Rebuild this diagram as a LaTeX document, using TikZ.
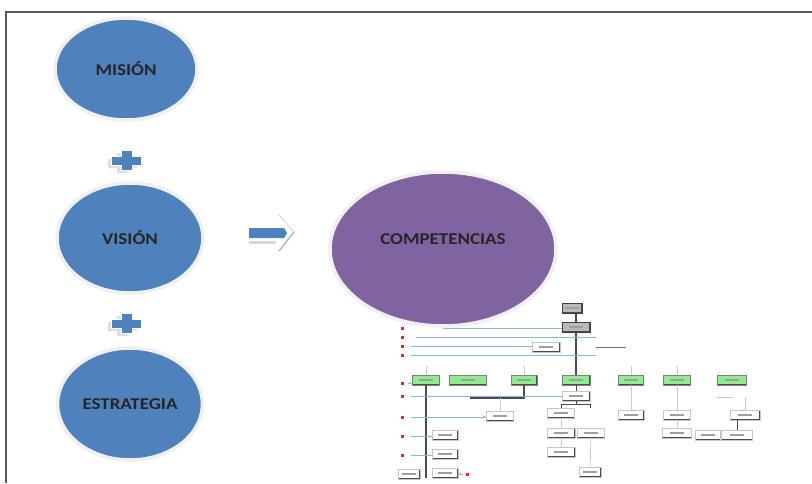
\documentclass[tikz,border=0pt]{standalone}
\usepackage{fontspec}
\newfontfamily\rotulo[FakeStretch=1.15]{Carlito}
\usetikzlibrary{shapes.geometric,arrows.meta}

\definecolor{azulovalo}{HTML}{4F81BD}
\definecolor{moradoovalo}{HTML}{8064A2}
\definecolor{verdecaja}{HTML}{8EEE8E}
\definecolor{azullinea}{HTML}{8DB3E2}
\definecolor{rojomarca}{HTML}{E8262A}

\tikzset{
  ovalo/.style={ellipse, draw=gray!12, line width=3.5pt, fill=azulovalo, inner sep=0pt,
    font=\rotulo\bfseries\fontsize{16.5}{19}\selectfont, text=black!85},
  relleno/.style={path picture={
    \draw[black!70, line width=1.6pt] (path picture bounding box.south west)
      -- (path picture bounding box.south east) -- (path picture bounding box.north east);
    \draw[gray!75, line width=1.5pt] ([xshift=-7pt]path picture bounding box.center)
      -- ([xshift=7pt]path picture bounding box.center);}},
  cajagris/.style={draw=black!75, line width=1pt, fill=gray!55, inner sep=0pt, minimum height=10pt, relleno},
  cajaverde/.style={draw=black!50, line width=0.5pt, fill=verdecaja, inner sep=0pt, minimum height=10pt, relleno},
  cajablanca/.style={draw=gray!45, line width=0.4pt, fill=white, inner sep=0pt, minimum height=10pt, relleno},
  lineaoscura/.style={draw=black!70, line width=1.4pt},
  lineaclara/.style={draw=gray!40, line width=0.8pt},
  lineaazul/.style={draw=azullinea, line width=0.8pt},
  marcaroja/.style={fill=rojomarca, inner sep=0pt, minimum size=3pt},
}

\begin{document}
\begin{tikzpicture}[x=1pt,y=-1pt]
\useasboundingbox (0,0) rectangle (812,483);
\fill[white] (0,0) rectangle (812,483);

% marco
\draw[black!65, line width=1.5pt] (812,12) -- (6,12) -- (6,483);

% ovalos
\node[ovalo, minimum width=142pt, minimum height=102pt] (mision) at (126,69) {MISIÓN};
\node[ovalo, minimum width=146pt, minimum height=110pt] (vision) at (130,238) {VISIÓN};
\node[ovalo, minimum width=145pt, minimum height=112pt] (estrategia) at (130,404) {ESTRATEGIA};
\node[ovalo, fill=moradoovalo, minimum width=226pt, minimum height=154pt, text depth=20pt]
  (competencias) at (443,249) {COMPETENCIAS};

% signos mas
\foreach \py in {160,323}
{
\begin{scope}[shift={(126,\py)}]
\fill[gray!25] (-18,-1) -- (-9,-1) -- (-9,-7) -- (2,-7) -- (2,-1) -- (11,-1) -- (11,8)
  -- (2,8) -- (2,13) -- (-9,13) -- (-9,8) -- (-18,8) -- cycle;
\filldraw[fill=azulovalo, draw=white, line width=0.8pt] (-15,-4) -- (-5,-4) -- (-5,-10) -- (6,-10)
  -- (6,-4) -- (15,-4) -- (15,5) -- (6,5) -- (6,10) -- (-5,10) -- (-5,5) -- (-15,5) -- cycle;
\end{scope}
}

% flecha
\fill[gray!30] (249,241) rectangle (276,244);
\filldraw[fill=white, draw=gray!35, line width=0.8pt] (279,215) -- (294,232) -- (279,251);
\draw[gray!60, line width=1.2pt] (294,232) -- (279,251);
\fill[azulovalo] (249,228) -- (284,228) -- (287,233) -- (284,238) -- (249,238) -- cycle;

% organigrama
\node[cajagris, minimum width=20pt] (p1) at (572,308) {};
\node[cajagris, minimum width=28pt] (p2) at (576,327) {};
\foreach \n/\x/\w in {v1/426/27, v2/468/37, v3/524/26, v4/576/28, v5/631/25, v6/677/27, v7/732/29}
  \node[cajaverde, minimum width=\w pt] (\n) at (\x,380) {};
\foreach \n/\x/\y/\w in {a1/546/347/28, c1/576/396/28, c2/561/413/27, c3/561/433/28, c4/591/433/27,
  c5/561/452/28, c7/590/472/22, b1/500/416/27, l1/445/435/26, l2/445/454/26, l3/409/474/22,
  l4/445/473/26, d1/631/415/26, e1/677/415/27, e2/677/433/29, f1/708/435/25, h1/745/415/30,
  h2/737/435/31}
  \node[cajablanca, minimum width=\w pt] (\n) at (\x,\y) {};
\node[inner sep=0pt, minimum width=30pt, minimum height=10pt] (a2) at (611,342) {};
\draw[black!55, line width=0.8pt] (a2.south west) -- (a2.south east);

\draw[lineaoscura] (p1.south -| p2) -- (p2.north);
\draw[lineaoscura] (p2) -- (v4);
\foreach \n in {v1,v3,v5,v6}
  \draw[lineaclara] (\n.north) -- ++(0,-9);
\draw[lineaoscura] (v1.south) -- (v1.south |- l4.south);
\coordinate (k1) at (470,398);
\draw[lineaoscura] (v3.south) |- (k1);
\draw[lineaclara] (b1.north) -- (b1.north |- k1);
\draw[lineaoscura, line width=1pt] (v4) -- (c1);
\coordinate (k2) at (590,404);
\draw[lineaoscura, line width=0.8pt] (c1.south) -- (c1.south |- k2);
\draw[lineaoscura, line width=0.8pt] (c2.north) |- (k2) -- ++(0,4);
\draw[lineaclara] (c2) -- (c3);
\draw[lineaclara] (c3) -- (c5);
\draw[lineaclara] (c4) -- (c7);
\draw[lineaclara] (v5) -- (d1);
\draw[lineaclara] (v6) -- (e1);
\draw[lineaclara] (e1) -- (e2);
\draw[lineaoscura, line width=0.8pt] (h2.north) -- (h2.north |- h1.south);
\coordinate (k3) at (716,397);
\draw[lineaclara] (h1.north) -- ++(0,-13);
\draw[lineaclara] (k3) -- ++(18,0);

% marcas rojas y lineas azules
\foreach \i/\y in {1/328,2/337,3/346,4/355,5/383,6/396,7/417,8/436,9/455}
  \node[marcaroja] (r\i) at (402,\y) {};
\node[marcaroja] (r10) at (467,474) {};
\foreach \i/\dest in {3/a1.west, 4/a2.west, 6/c1.west, 8/l1.west, 9/l2.west}
  \draw[lineaazul] ([xshift=7pt]r\i.east) -- (\dest |- r\i);
\draw[lineaazul] ([xshift=39pt]r1.east) -- (p2.west |- r1);
\draw[lineaazul] ([xshift=12pt]r2.east) -- (a2.west |- r2);
\draw[lineaazul, -{Stealth[length=4pt]}] ([xshift=7pt]r7.east) -- (b1.west |- r7);
\draw[lineaazul, -{Stealth[length=3pt]}] ([xshift=4pt]r5.east) -- (v1.west |- r5);
\draw[lineaazul, -{Stealth[length=3pt]}] ([xshift=-2pt]r10.west) -- (l4.east |- r10);

\end{tikzpicture}
\end{document}
